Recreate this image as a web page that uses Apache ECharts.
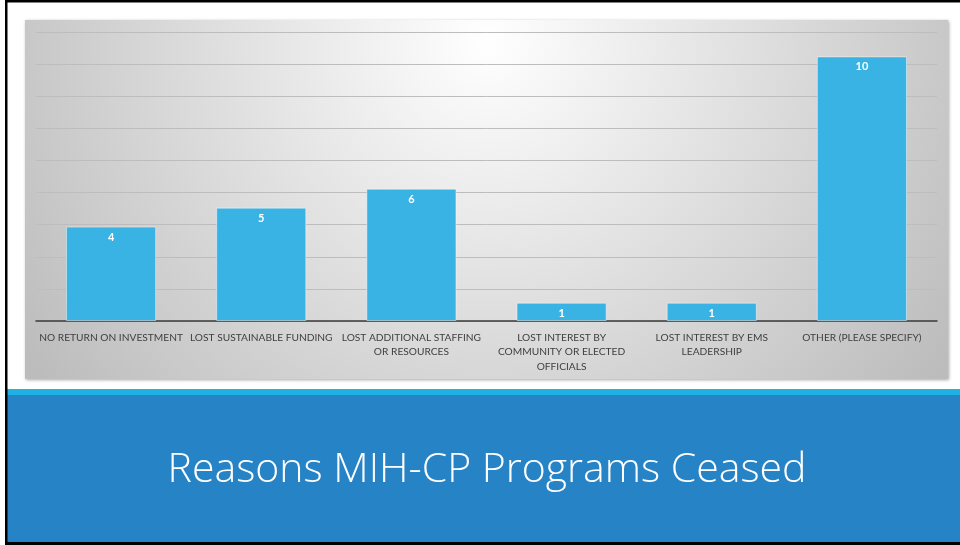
<!DOCTYPE html>
<html>
<head>
<meta charset="utf-8">
<script src="https://cdn.jsdelivr.net/npm/echarts@6/dist/echarts.min.js"></script>
<style>
  html, body { margin: 0; padding: 0; background: #fff; }
  #main { width: 960px; height: 545px; }
</style>
</head>
<body>
<div id="main"></div>
<script>
// categories as printed under the bars
const categories = [
  'NO RETURN ON INVESTMENT',
  'LOST SUSTAINABLE FUNDING',
  'LOST ADDITIONAL STAFFING\nOR RESOURCES',
  'LOST INTEREST BY\nCOMMUNITY OR ELECTED\nOFFICIALS',
  'LOST INTEREST BY EMS\nLEADERSHIP',
  'OTHER (PLEASE SPECIFY)'
];
// numbers written on the bars
const counts = [4, 5, 6, 1, 1, 10];
// bar heights as drawn, in gridline steps (the slide's bars are not scaled to the labels)
const barHeights = [2.94, 3.53, 4.12, 0.57, 0.57, 8.24];

const chart = echarts.init(document.getElementById('main'));

const option = {
  backgroundColor: '#ffffff',
  animation: false,
  title: {
    text: 'Reasons MIH-CP Programs Ceased',
    left: 482,
    top: 445,
    textAlign: 'center',
    textStyle: {
      color: '#ffffff',
      fontFamily: 'Open Sans',
      fontWeight: 300,
      fontSize: 41
    }
  },
  graphic: [
    // grey chart panel
    {
      type: 'rect', z: -10,
      shape: { x: 25, y: 20, width: 923, height: 359 },
      style: {
        fill: {
          type: 'radial', x: 487, y: 40, r: 560, global: true,
          colorStops: [
            { offset: 0, color: '#ffffff' },
            { offset: 1, color: '#bcbcbc' }
          ]
        },
        shadowBlur: 3, shadowColor: 'rgba(0,0,0,0.35)', shadowOffsetX: 1, shadowOffsetY: 1
      }
    },
    // title band
    { type: 'rect', z: -10, shape: { x: 7, y: 389, width: 953, height: 6 }, style: { fill: '#1fb1e2' } },
    { type: 'rect', z: -10, shape: { x: 7, y: 395, width: 953, height: 147 }, style: { fill: '#2683c6' } },
    // slide border
    { type: 'rect', z: -5, shape: { x: 5, y: 0, width: 2.5, height: 545 }, style: { fill: '#000' } },
    { type: 'rect', z: -5, shape: { x: 5, y: 0, width: 955, height: 2.5 }, style: { fill: '#000' } },
    { type: 'rect', z: -5, shape: { x: 5, y: 542, width: 955, height: 3 }, style: { fill: '#000' } }
  ],
  grid: {
    left: 36, right: 23, top: 32, bottom: 224,
    containLabel: false, outerBoundsMode: 'none'
  },
  xAxis: {
    type: 'category',
    data: categories,
    axisTick: { show: false },
    axisLine: { lineStyle: { color: '#3a3a3a', width: 1.5 } },
    axisLabel: {
      interval: 0,
      margin: 9,
      color: '#404040',
      fontFamily: 'Lato',
      fontSize: 10.2,
      lineHeight: 14.5,
      align: 'center'
    }
  },
  yAxis: {
    type: 'value',
    min: 0, max: 9, interval: 1,
    axisLabel: { show: false },
    axisLine: { show: false },
    axisTick: { show: false },
    splitLine: { lineStyle: { color: '#bdbdbd', width: 1 } }
  },
  series: [{
    type: 'bar',
    data: barHeights,
    barWidth: '60%',
    itemStyle: {
      color: '#39b3e3',
      borderColor: 'rgba(255,255,255,0.45)',
      borderWidth: 1
    },
    label: {
      show: true,
      position: 'insideTop',
      distance: 5,
      color: '#ffffff',
      fontFamily: 'Lato',
      fontWeight: 'bold',
      fontSize: 11,
      formatter: p => String(counts[p.dataIndex])
    }
  }]
};

chart.setOption(option);
</script>
</body>
</html>
